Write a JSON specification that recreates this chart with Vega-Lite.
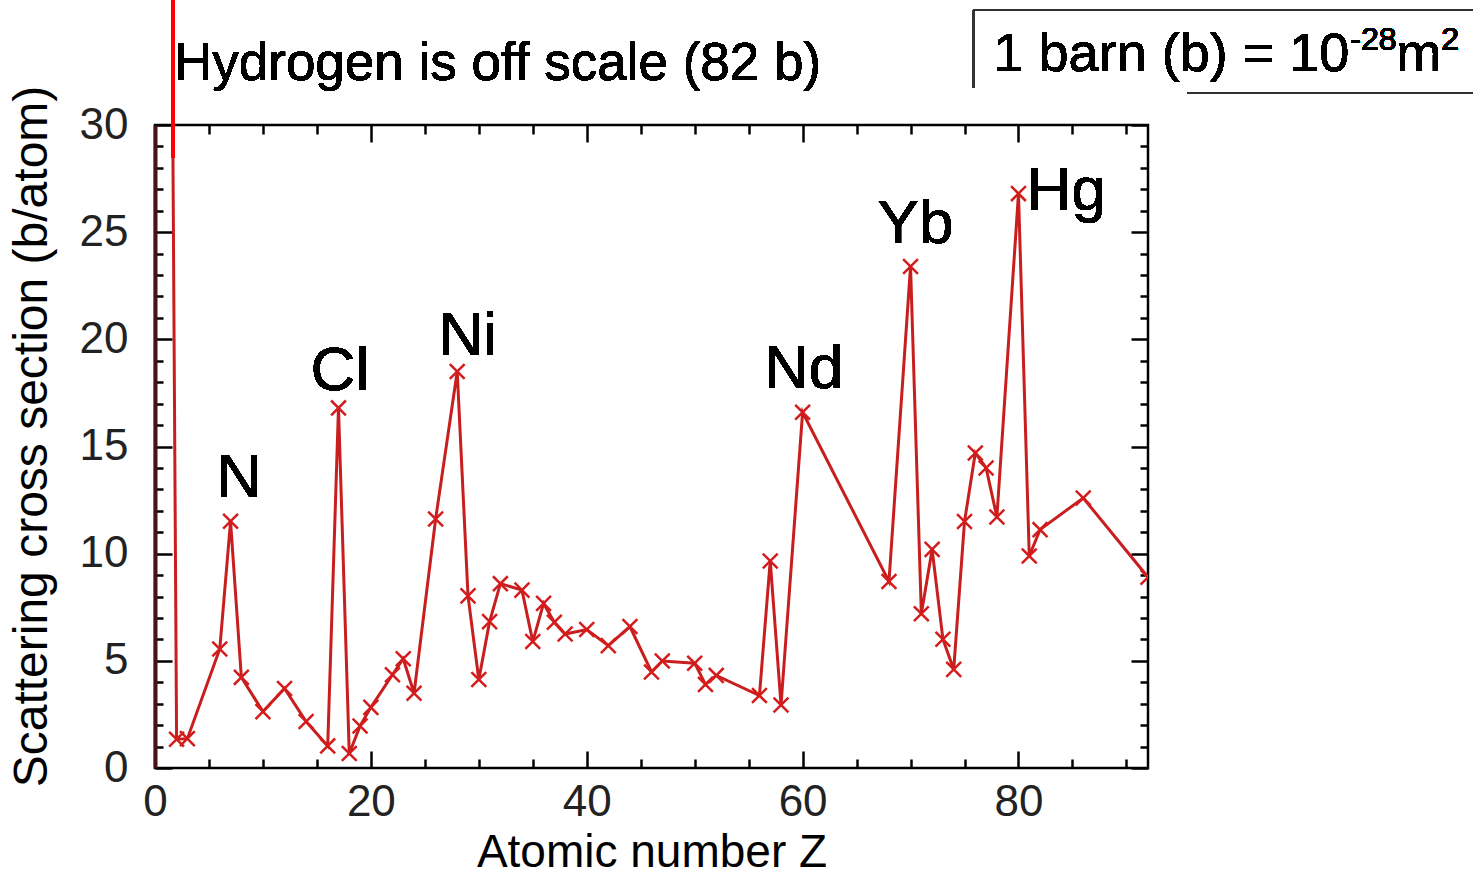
{
  "$schema": "https://vega.github.io/schema/vega-lite/v6.json",
  "width": 993,
  "height": 643,
  "autosize": {"type": "none"},
  "padding": {"left": 155, "top": 125, "right": 326, "bottom": 108},
  "background": "white",
  "config": {
    "view": {"stroke": "black", "strokeWidth": 2.5},
    "font": "Liberation Sans",
    "axis": {"grid": false, "domain": false, "tickColor": "black", "tickWidth": 2.5, "labelFont": "Liberation Sans", "titleFont": "Liberation Sans", "titleFontWeight": "normal", "titleColor": "black", "labelColor": "#222", "labelOverlap": false, "labelFlush": false},
    "text": {"font": "Liberation Sans", "color": "black"}
  },
  "data": {
    "values": [
      {"symbol": "H", "Z": 1, "sigma": 82.02},
      {"symbol": "He", "Z": 2, "sigma": 1.34},
      {"symbol": "Li", "Z": 3, "sigma": 1.37},
      {"symbol": "C", "Z": 6, "sigma": 5.55},
      {"symbol": "N", "Z": 7, "sigma": 11.51},
      {"symbol": "O", "Z": 8, "sigma": 4.23},
      {"symbol": "Ne", "Z": 10, "sigma": 2.63},
      {"symbol": "Mg", "Z": 12, "sigma": 3.71},
      {"symbol": "Si", "Z": 14, "sigma": 2.17},
      {"symbol": "S", "Z": 16, "sigma": 1.03},
      {"symbol": "Cl", "Z": 17, "sigma": 16.8},
      {"symbol": "Ar", "Z": 18, "sigma": 0.68},
      {"symbol": "K", "Z": 19, "sigma": 1.96},
      {"symbol": "Ca", "Z": 20, "sigma": 2.83},
      {"symbol": "Ti", "Z": 22, "sigma": 4.35},
      {"symbol": "V", "Z": 23, "sigma": 5.1},
      {"symbol": "Cr", "Z": 24, "sigma": 3.49},
      {"symbol": "Fe", "Z": 26, "sigma": 11.62},
      {"symbol": "Ni", "Z": 28, "sigma": 18.5},
      {"symbol": "Cu", "Z": 29, "sigma": 8.03},
      {"symbol": "Zn", "Z": 30, "sigma": 4.13},
      {"symbol": "Ga", "Z": 31, "sigma": 6.83},
      {"symbol": "Ge", "Z": 32, "sigma": 8.6},
      {"symbol": "Se", "Z": 34, "sigma": 8.3},
      {"symbol": "Br", "Z": 35, "sigma": 5.9},
      {"symbol": "Kr", "Z": 36, "sigma": 7.68},
      {"symbol": "Rb", "Z": 37, "sigma": 6.8},
      {"symbol": "Sr", "Z": 38, "sigma": 6.25},
      {"symbol": "Zr", "Z": 40, "sigma": 6.46},
      {"symbol": "Mo", "Z": 42, "sigma": 5.71},
      {"symbol": "Ru", "Z": 44, "sigma": 6.6},
      {"symbol": "Pd", "Z": 46, "sigma": 4.48},
      {"symbol": "Ag", "Z": 47, "sigma": 4.99},
      {"symbol": "Sn", "Z": 50, "sigma": 4.89},
      {"symbol": "Sb", "Z": 51, "sigma": 3.9},
      {"symbol": "Te", "Z": 52, "sigma": 4.32},
      {"symbol": "Ba", "Z": 56, "sigma": 3.38},
      {"symbol": "La", "Z": 57, "sigma": 9.66},
      {"symbol": "Ce", "Z": 58, "sigma": 2.94},
      {"symbol": "Nd", "Z": 60, "sigma": 16.6},
      {"symbol": "Er", "Z": 68, "sigma": 8.7},
      {"symbol": "Yb", "Z": 70, "sigma": 23.4},
      {"symbol": "Lu", "Z": 71, "sigma": 7.2},
      {"symbol": "Hf", "Z": 72, "sigma": 10.2},
      {"symbol": "Ta", "Z": 73, "sigma": 6.01},
      {"symbol": "W", "Z": 74, "sigma": 4.6},
      {"symbol": "Re", "Z": 75, "sigma": 11.5},
      {"symbol": "Os", "Z": 76, "sigma": 14.7},
      {"symbol": "Ir", "Z": 77, "sigma": 14.0},
      {"symbol": "Pt", "Z": 78, "sigma": 11.71},
      {"symbol": "Hg", "Z": 80, "sigma": 26.8},
      {"symbol": "Tl", "Z": 81, "sigma": 9.89},
      {"symbol": "Pb", "Z": 82, "sigma": 11.12},
      {"symbol": "Rn", "Z": 86, "sigma": 12.6},
      {"symbol": "U", "Z": 92, "sigma": 8.9}
    ]
  },
  "resolve": {"axis": {"x": "independent", "y": "independent"}},
  "layer": [
    {
      "mark": {"type": "line", "color": "#c81e1e", "strokeWidth": 3, "clip": true},
      "encoding": {
        "x": {"field": "Z", "type": "quantitative", "scale": {"domain": [0, 92], "nice": false, "zero": false},
          "axis": {"orient": "bottom", "values": [0,5,10,15,20,25,30,35,40,45,50,55,60,65,70,75,80,85,90],
            "labelExpr": "datum.value % 20 === 0 ? datum.label : ''",
            "tickSize": {"condition": {"test": "datum.value % 20 === 0", "value": -17}, "value": -9},
            "labelPadding": 29, "labelFontSize": 44, "title": "Atomic number Z", "titleFontSize": 46, "titlePadding": -2}},
        "y": {"field": "sigma", "type": "quantitative", "scale": {"domain": [0, 30], "nice": false},
          "axis": {"orient": "left", "values": [0,1,2,3,4,5,6,7,8,9,10,11,12,13,14,15,16,17,18,19,20,21,22,23,24,25,26,27,28,29,30],
            "labelExpr": "datum.value % 5 === 0 ? datum.label : ''",
            "tickSize": {"condition": {"test": "datum.value % 5 === 0", "value": -17}, "value": -8},
            "labelPadding": 44, "labelFontSize": 44, "title": "Scattering cross section (b/atom)", "titleFontSize": 48, "titlePadding": 23, "titleY": 311,
            "domain": true, "domainColor": "#4a1212", "domainWidth": 4}}
      }
    },
    {
      "mark": {"type": "point", "shape": "M-1,-1L1,1M-1,1L1,-1", "filled": false, "stroke": "#d41c1c", "strokeWidth": 2.5, "size": 220, "opacity": 1, "clip": true},
      "encoding": {
        "x": {"field": "Z", "type": "quantitative", "axis": {"orient": "top", "values": [0,5,10,15,20,25,30,35,40,45,50,55,60,65,70,75,80,85,90],
            "labels": false, "title": null,
            "tickSize": {"condition": {"test": "datum.value % 20 === 0", "value": -17}, "value": -9}}},
        "y": {"field": "sigma", "type": "quantitative", "axis": {"orient": "right", "values": [0,1,2,3,4,5,6,7,8,9,10,11,12,13,14,15,16,17,18,19,20,21,22,23,24,25,26,27,28,29,30],
            "labels": false, "title": null,
            "tickSize": {"condition": {"test": "datum.value % 5 === 0", "value": -17}, "value": -8}}}
      }
    },
    {
      "mark": {"type": "rule", "color": "#ff0000", "strokeWidth": 3.5},
      "encoding": {"x": {"datum": 1.645, "type": "quantitative", "axis": null}, "y": {"datum": 28.5, "type": "quantitative", "axis": null}, "y2": {"datum": 36}}
    },
    {
      "mark": {"type": "text", "text": "Hydrogen is off scale (82 b)", "fontSize": 53, "align": "left", "baseline": "alphabetic"},
      "encoding": {"x": {"datum": 1.76, "type": "quantitative", "axis": null}, "y": {"datum": 32.1, "type": "quantitative", "axis": null}}
    },
    {
      "mark": {"type": "text", "text": "N", "fontSize": 62, "align": "center", "baseline": "alphabetic"},
      "encoding": {"x": {"datum": 7.8, "type": "quantitative", "axis": null}, "y": {"datum": 12.65, "type": "quantitative", "axis": null}}
    },
    {
      "mark": {"type": "text", "text": "Cl", "fontSize": 62, "align": "center", "baseline": "alphabetic"},
      "encoding": {"x": {"datum": 17.13, "type": "quantitative", "axis": null}, "y": {"datum": 17.64, "type": "quantitative", "axis": null}}
    },
    {
      "mark": {"type": "text", "text": "Ni", "fontSize": 62, "align": "center", "baseline": "alphabetic"},
      "encoding": {"x": {"datum": 28.98, "type": "quantitative", "axis": null}, "y": {"datum": 19.27, "type": "quantitative", "axis": null}}
    },
    {
      "mark": {"type": "text", "text": "Nd", "fontSize": 62, "align": "center", "baseline": "alphabetic"},
      "encoding": {"x": {"datum": 60.09, "type": "quantitative", "axis": null}, "y": {"datum": 17.73, "type": "quantitative", "axis": null}}
    },
    {
      "mark": {"type": "text", "text": "Yb", "fontSize": 62, "align": "center", "baseline": "alphabetic"},
      "encoding": {"x": {"datum": 70.46, "type": "quantitative", "axis": null}, "y": {"datum": 24.5, "type": "quantitative", "axis": null}}
    },
    {
      "mark": {"type": "text", "text": "Hg", "fontSize": 62, "align": "center", "baseline": "alphabetic"},
      "encoding": {"x": {"datum": 84.44, "type": "quantitative", "axis": null}, "y": {"datum": 26.04, "type": "quantitative", "axis": null}}
    },
    {
      "mark": {"type": "text", "text": "1 barn (b) = 10", "fontSize": 54, "align": "left", "baseline": "alphabetic"},
      "encoding": {"x": {"datum": 77.69, "type": "quantitative", "axis": null}, "y": {"datum": 32.52, "type": "quantitative", "axis": null}}
    },
    {
      "mark": {"type": "text", "text": "-28", "fontSize": 32, "align": "left", "baseline": "alphabetic"},
      "encoding": {"x": {"datum": 110.74, "type": "quantitative", "axis": null}, "y": {"datum": 33.5, "type": "quantitative", "axis": null}}
    },
    {
      "mark": {"type": "text", "text": "m", "fontSize": 54, "align": "left", "baseline": "alphabetic"},
      "encoding": {"x": {"datum": 115.0, "type": "quantitative", "axis": null}, "y": {"datum": 32.52, "type": "quantitative", "axis": null}}
    },
    {
      "mark": {"type": "text", "text": "2", "fontSize": 32, "align": "left", "baseline": "alphabetic"},
      "encoding": {"x": {"datum": 119.17, "type": "quantitative", "axis": null}, "y": {"datum": 33.5, "type": "quantitative", "axis": null}}
    },
    {
      "mark": {"type": "rule", "color": "#333", "strokeWidth": 1.5},
      "encoding": {"x": {"datum": 75.83, "type": "quantitative", "axis": null}, "y": {"datum": 35.37, "type": "quantitative", "axis": null}, "y2": {"datum": 31.73}}
    },
    {
      "mark": {"type": "rule", "color": "#333", "strokeWidth": 1.5},
      "encoding": {"x": {"datum": 75.83, "type": "quantitative", "axis": null}, "x2": {"datum": 122.1}, "y": {"datum": 35.37, "type": "quantitative", "axis": null}}
    },
    {
      "mark": {"type": "rule", "color": "#333", "strokeWidth": 1.5},
      "encoding": {"x": {"datum": 95.65, "type": "quantitative", "axis": null}, "x2": {"datum": 122.1}, "y": {"datum": 31.49, "type": "quantitative", "axis": null}}
    }
  ]
}
